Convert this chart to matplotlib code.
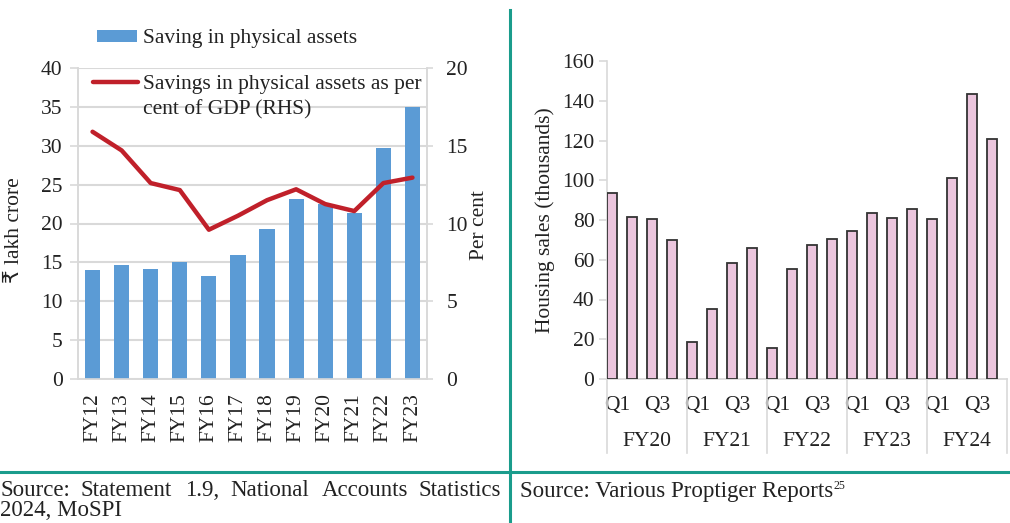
import matplotlib
matplotlib.use("Agg")
import matplotlib.pyplot as plt
from matplotlib.lines import Line2D
import matplotlib.transforms as mtransforms

# ---------------- data ----------------
years = ["FY12", "FY13", "FY14", "FY15", "FY16", "FY17", "FY18", "FY19", "FY20", "FY21", "FY22", "FY23"]
saving_physical = [14.0, 14.6, 14.1, 15.0, 13.2, 15.9, 19.3, 23.1, 22.5, 21.3, 29.7, 35.0]
saving_pct_gdp = [15.9, 14.7, 12.6, 12.15, 9.6, 10.5, 11.5, 12.2, 11.25, 10.8, 12.6, 12.95]

fy_groups = ["FY20", "FY21", "FY22", "FY23", "FY24"]
quarters = ["Q1", "Q2", "Q3", "Q4"]
housing_sales = [93.5, 81.6, 80.3, 69.8,
                 18.7, 35.2, 58.4, 65.8,
                 15.7, 55.3, 67.5, 70.5,
                 74.4, 83.3, 80.9, 85.4,
                 80.3, 101.2, 143.2, 120.8]

left_ticks = [0, 5, 10, 15, 20, 25, 30, 35, 40]
right_ticks = [0, 5, 10, 15, 20]
housing_ticks = [0, 20, 40, 60, 80, 100, 120, 140, 160]

# ---------------- style ----------------
plt.rcParams['font.family'] = ['Liberation Serif', 'DejaVu Sans']
FS = 15.5
FSS = 16.5
W, H = 1010, 523
fig = plt.figure(figsize=(W / 100, H / 100), dpi=100)
fig.patch.set_facecolor("white")

def fx(px):
    return px / W

def fy(py):
    return 1 - py / H

GRID = "#d9d9d9"
TXT = "#222222"
TEAL = "#1a9c8c"

# ---------------- left chart ----------------
axl = fig.add_axes([fx(78), fy(379), fx(427) - fx(78), fy(68) - fy(379)])
xs = list(range(len(years)))
bars = axl.bar(xs, saving_physical, width=0.52, color="#5b9bd5", zorder=3,
               label="Saving in physical assets")
axl.set_xlim(-0.5, len(years) - 0.5)
axl.set_ylim(0, 40)
axl.set_yticks(left_ticks)
axl.set_xticks(xs)
axl.set_xticklabels(years, rotation=90, fontsize=FS, color=TXT)
axl.tick_params(axis="x", length=0, pad=10)
axl.tick_params(axis="y", length=6, width=1.2, color=GRID, pad=5, labelsize=FS, labelcolor=TXT)
axl.grid(axis="y", color=GRID, linewidth=1.5, zorder=0)
axl.spines["top"].set_visible(False)
for s in ["left", "right", "bottom"]:
    axl.spines[s].set_color(GRID)
    axl.spines[s].set_linewidth(1.2)

axr = axl.twinx()
line, = axr.plot(xs, saving_pct_gdp, color="#c0202a", linewidth=3.2,
                 solid_capstyle="round", zorder=4,
                 label="Savings in physical assets as per")
axr.set_ylim(0, 20)
axr.set_yticks(right_ticks)
axr.tick_params(axis="y", length=4, width=1.2, color=GRID, pad=10, labelsize=FS, labelcolor=TXT)
axr.spines["top"].set_visible(False)
for s in ["left", "right", "bottom"]:
    axr.spines[s].set_color(GRID)
    axr.spines[s].set_linewidth(1.2)

fig.text(fx(15), fy(230), "₹ lakh crore", rotation=90, ha="center", va="center",
         fontsize=FS, color=TXT, family=['Liberation Serif', 'DejaVu Sans'])
fig.text(fx(479), fy(225), "Per cent", rotation=90, ha="center", va="center",
         fontsize=FS, color=TXT)

leg1 = fig.legend(handles=[bars], loc="center left", bbox_to_anchor=(fx(97), fy(39)),
                  frameon=False, fontsize=FS, handlelength=1.86, handleheight=0.5,
                  handletextpad=0.28, borderaxespad=0, borderpad=0)
for t in leg1.get_texts():
    t.set_color(TXT)
leg2 = fig.legend(handles=[line], loc="center left", bbox_to_anchor=(fx(93), fy(84)),
                  frameon=False, fontsize=FS, handlelength=2.1,
                  handletextpad=0.23, borderaxespad=0, borderpad=0)
for t in leg2.get_texts():
    t.set_color(TXT)
fig.text(fx(143), fy(110), "cent of GDP (RHS)", ha="left", va="center", fontsize=FS, color=TXT)

# ---------------- right chart ----------------
axh = fig.add_axes([fx(607), fy(379), fx(1007) - fx(607), fy(61) - fy(379)])
hx = list(range(len(housing_sales)))
axh.bar([x - 0.25 for x in hx], housing_sales, width=0.5, color="#ebc5dd",
        edgecolor="#333333", linewidth=1.3, zorder=3)
axh.set_xlim(-0.5, len(housing_sales) - 0.5)
axh.set_ylim(0, 160)
axh.set_yticks(housing_ticks)
axh.tick_params(axis="y", length=6, width=1.2, color=GRID, pad=3, labelsize=FS, labelcolor=TXT)
qpos = [i for i in hx if i % 2 == 0]
axh.set_xticks(qpos)
axh.set_xticklabels([quarters[i % 4] for i in qpos], fontsize=FS, color=TXT)
axh.tick_params(axis="x", length=0, pad=12)
for s in ["top", "right"]:
    axh.spines[s].set_visible(False)
for s in ["left", "bottom"]:
    axh.spines[s].set_color(GRID)
    axh.spines[s].set_linewidth(1.2)
axh.set_ylabel("Housing sales (thousands)", fontsize=FS, color=TXT, labelpad=5)

trans = mtransforms.blended_transform_factory(axh.transData, axh.transAxes)
ybot = -(453 - 379) / 318
for g in range(len(fy_groups) + 1):
    xb = g * 4 - 0.5
    axh.add_line(Line2D([xb, xb], [0, ybot], transform=trans, color=GRID,
                        linewidth=1.2, clip_on=False))
for g, name in enumerate(fy_groups):
    axh.text(g * 4 + 1.5, -(441 - 379) / 318, name, transform=trans, ha="center",
             va="center", fontsize=FS, color=TXT)

# ---------------- frame lines & sources ----------------
fig.add_artist(Line2D([fx(510), fx(510)], [fy(10), fy(523)], transform=fig.transFigure,
                      color=TEAL, linewidth=2.2))
fig.add_artist(Line2D([0, 1], [fy(472), fy(472)], transform=fig.transFigure,
                      color=TEAL, linewidth=2.2))

src_words = ["Source:", "Statement", "1.9,", "National", "Accounts", "Statistics"]
src_x = [0, 81, 185, 230, 322, 418]
for w, x in zip(src_words, src_x):
    fig.text(fx(x), fy(491), w, ha="left", va="center", fontsize=FSS, color=TXT)
fig.text(fx(0), fy(511), "2024, MoSPI", ha="left", va="center", fontsize=FSS, color=TXT)

t_src = fig.text(fx(520), fy(491), "Source: Various Proptiger Reports", ha="left",
                 va="center", fontsize=FSS, color=TXT)
axh.annotate("25", xy=(1.0, 0.75), xycoords=t_src, ha="left", va="center",
             fontsize=8.5, color=TXT, annotation_clip=False)

fig.savefig("out.png", dpi=100, facecolor="white")
